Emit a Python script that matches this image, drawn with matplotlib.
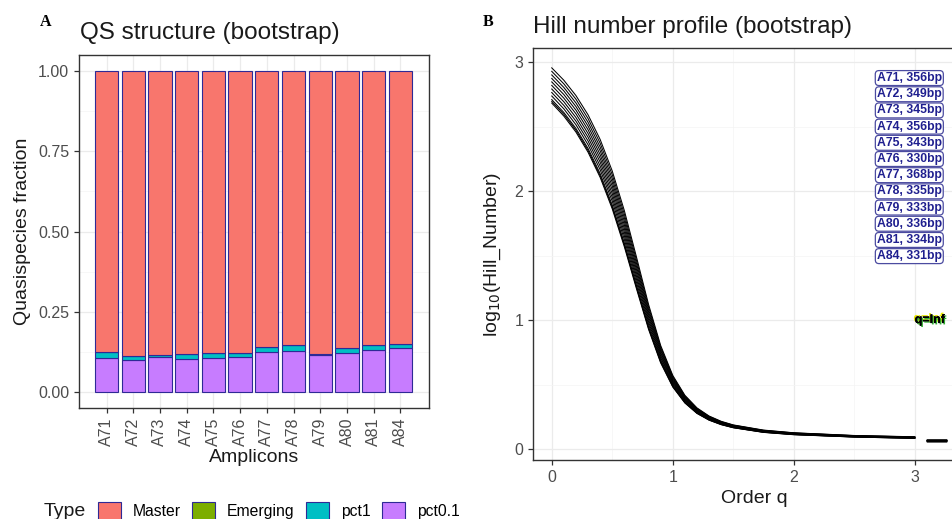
import matplotlib
matplotlib.use("Agg")
import matplotlib.pyplot as plt
import matplotlib.patheffects as pe
from matplotlib.patches import Patch

plt.rcParams['font.family'] = ['Liberation Sans', 'DejaVu Sans']

# ---- panel A data: quasispecies fractions per amplicon
amplicons = ['A71', 'A72', 'A73', 'A74', 'A75', 'A76', 'A77', 'A78', 'A79', 'A80', 'A81', 'A84']
pct01 = [0.106, 0.099, 0.110, 0.102, 0.105, 0.109, 0.124, 0.128, 0.114, 0.121, 0.130, 0.138]
pct1 = [0.019, 0.013, 0.004, 0.015, 0.015, 0.012, 0.016, 0.019, 0.005, 0.015, 0.017, 0.012]
emerging = [0.0, 0.0, 0.0, 0.0, 0.0, 0.0, 0.0, 0.0, 0.0, 0.0, 0.0, 0.0]
master = [0.875, 0.888, 0.886, 0.883, 0.880, 0.879, 0.860, 0.853, 0.881, 0.864, 0.853, 0.850]

# ---- panel B data: log10 Hill numbers vs order q
amp_len = [356, 349, 345, 356, 343, 330, 368, 335, 333, 336, 334, 331]
q = [0, 0.1, 0.2, 0.3, 0.4, 0.5, 0.6, 0.7, 0.8, 0.9, 1.0, 1.1, 1.2, 1.3, 1.4, 1.5, 1.75, 2.0, 2.5, 3.0]
hill_a71 = [2.955, 2.859, 2.740, 2.591, 2.400, 2.155, 1.848, 1.489, 1.121, 0.803, 0.571, 0.417, 0.319, 0.256, 0.215, 0.187, 0.147, 0.126, 0.105, 0.095]
hill_a72 = [2.928, 2.831, 2.712, 2.562, 2.371, 2.126, 1.820, 1.464, 1.102, 0.790, 0.562, 0.411, 0.315, 0.253, 0.212, 0.185, 0.145, 0.125, 0.104, 0.094]
hill_a73 = [2.900, 2.803, 2.683, 2.533, 2.341, 2.096, 1.792, 1.440, 1.082, 0.776, 0.553, 0.405, 0.310, 0.250, 0.210, 0.183, 0.143, 0.123, 0.103, 0.093]
hill_a74 = [2.873, 2.776, 2.655, 2.504, 2.312, 2.067, 1.764, 1.415, 1.063, 0.763, 0.544, 0.399, 0.306, 0.246, 0.207, 0.180, 0.142, 0.122, 0.101, 0.091]
hill_a75 = [2.846, 2.748, 2.627, 2.475, 2.282, 2.038, 1.736, 1.391, 1.044, 0.749, 0.535, 0.393, 0.302, 0.243, 0.205, 0.178, 0.140, 0.120, 0.100, 0.090]
hill_a76 = [2.819, 2.720, 2.599, 2.446, 2.253, 2.009, 1.708, 1.366, 1.025, 0.736, 0.526, 0.387, 0.298, 0.240, 0.202, 0.176, 0.138, 0.119, 0.099, 0.089]
hill_a77 = [2.791, 2.692, 2.570, 2.417, 2.224, 1.979, 1.680, 1.341, 1.005, 0.722, 0.517, 0.381, 0.293, 0.237, 0.199, 0.174, 0.136, 0.117, 0.098, 0.088]
hill_a78 = [2.764, 2.664, 2.542, 2.388, 2.194, 1.950, 1.652, 1.317, 0.986, 0.709, 0.508, 0.375, 0.289, 0.234, 0.197, 0.172, 0.134, 0.116, 0.097, 0.087]
hill_a79 = [2.737, 2.637, 2.514, 2.359, 2.165, 1.921, 1.624, 1.292, 0.967, 0.695, 0.499, 0.369, 0.285, 0.230, 0.194, 0.169, 0.133, 0.114, 0.095, 0.085]
hill_a80 = [2.709, 2.609, 2.485, 2.330, 2.135, 1.891, 1.596, 1.268, 0.947, 0.682, 0.490, 0.363, 0.280, 0.227, 0.192, 0.167, 0.131, 0.113, 0.094, 0.084]
hill_a81 = [2.695, 2.595, 2.471, 2.315, 2.120, 1.876, 1.582, 1.255, 0.937, 0.675, 0.485, 0.360, 0.278, 0.225, 0.190, 0.166, 0.130, 0.112, 0.093, 0.083]
hill_a84 = [2.682, 2.581, 2.457, 2.301, 2.106, 1.862, 1.568, 1.243, 0.928, 0.668, 0.481, 0.357, 0.276, 0.224, 0.189, 0.165, 0.129, 0.111, 0.093, 0.083]
hill_inf = [0.070, 0.069, 0.069, 0.068, 0.068, 0.068, 0.067, 0.067, 0.066, 0.066, 0.065, 0.065]

hill_curves = [hill_a71, hill_a72, hill_a73, hill_a74, hill_a75, hill_a76,
               hill_a77, hill_a78, hill_a79, hill_a80, hill_a81, hill_a84]

col_master = '#F8766D'
col_emerg = '#7CAE00'
col_pct1 = '#00BFC4'
col_pct01 = '#C77CFF'
edge = '#2E2A96'
tick_col = '#4D4D4D'
grid_major = '#EBEBEB'
grid_minor = '#F4F4F4'

W, H = 953, 519
fig = plt.figure(figsize=(W / 100, H / 100), dpi=100)


def style_axes(ax):
    for s in ax.spines.values():
        s.set_color('#333333')
        s.set_linewidth(1.0)
    ax.tick_params(colors='#333333', labelcolor=tick_col, labelsize=11.5, length=3.5, width=0.9)
    ax.grid(True, which='major', color=grid_major, lw=0.9, zorder=0)
    ax.grid(True, which='minor', color=grid_minor, lw=0.5, zorder=0)
    ax.tick_params(which='minor', length=0)
    ax.set_axisbelow(True)


# ---------------- panel A
axA = fig.add_axes([79 / W, 1 - 408 / H, 350 / W, 353 / H])
x = list(range(len(amplicons)))
bw = 0.87
axA.bar(x, pct01, bw, color=col_pct01, edgecolor=edge, lw=0.8, zorder=2)
axA.bar(x, pct1, bw, bottom=pct01, color=col_pct1, edgecolor=edge, lw=0.8, zorder=2)
b2 = [a + b for a, b in zip(pct01, pct1)]
axA.bar(x, emerging, bw, bottom=b2, color=col_emerg, edgecolor=edge, lw=0.8, zorder=2)
b3 = [a + b for a, b in zip(b2, emerging)]
axA.bar(x, master, bw, bottom=b3, color=col_master, edgecolor=edge, lw=0.8, zorder=2)

axA.set_xlim(-1.03, len(amplicons) - 1 + 1.07)
axA.set_ylim(-0.05, 1.05)
axA.set_xticks(x)
axA.set_xticklabels(amplicons, rotation=90)
axA.set_yticks([0, 0.25, 0.5, 0.75, 1.0])
axA.set_yticklabels(['0.00', '0.25', '0.50', '0.75', '1.00'])
axA.set_yticks([0.125, 0.375, 0.625, 0.875], minor=True)
style_axes(axA)
axA.set_xlabel('Amplicons', fontsize=14, color='#1A1A1A', labelpad=2)
axA.set_ylabel('Quasispecies fraction', fontsize=14, color='#1A1A1A', labelpad=5)

fig.text(80 / W, 1 - 33 / H, 'QS structure (bootstrap)', fontsize=17.5, color='#1A1A1A', va='center', ha='left')
fig.text(40 / W, 1 - 22 / H, 'A', fontsize=11.5, fontweight='bold', family='Liberation Serif', va='center', ha='left')

# legend
handles = [Patch(facecolor=col_master, edgecolor=edge, lw=0.8, label='Master'),
           Patch(facecolor=col_emerg, edgecolor=edge, lw=0.8, label='Emerging'),
           Patch(facecolor=col_pct1, edgecolor=edge, lw=0.8, label='pct1'),
           Patch(facecolor=col_pct01, edgecolor=edge, lw=0.8, label='pct0.1')]
fig.legend(handles=handles, loc='center left', bbox_to_anchor=(98 / W, 1 - 511 / H), ncol=4,
           frameon=False, fontsize=11.3, handlelength=1.45, handleheight=1.45, handletextpad=0.75,
           columnspacing=0.75, borderpad=0, borderaxespad=0)
fig.text(44 / W, 1 - 511 / H, 'Type', fontsize=14, color='#1A1A1A', va='center', ha='left')

# ---------------- panel B
q_left, q_right = -0.155, 3.5
axB = fig.add_axes([533 / W, 1 - 460 / H, (q_right - q_left) * 121 / W, 412 / H])
for curve in hill_curves:
    axB.plot(q, curve, color='black', lw=0.75, zorder=3)
for v in hill_inf:
    axB.plot([3.1, 3.26], [v, v], color='black', lw=1.0, zorder=3)

axB.set_xlim(q_left, q_right)
axB.set_ylim(-0.085, 3.109)
axB.set_xticks([0, 1, 2, 3])
axB.set_xticks([0.5, 1.5, 2.5], minor=True)
axB.set_yticks([0, 1, 2, 3])
axB.set_yticks([0.5, 1.5, 2.5], minor=True)
style_axes(axB)
axB.set_xlabel('Order q', fontsize=14, color='#1A1A1A', labelpad=4)
axB.set_ylabel(r'log$_{10}$(Hill_Number)', fontsize=14, color='#1A1A1A', labelpad=8)

for i, (name, ln) in enumerate(zip(amplicons, amp_len)):
    axB.text(2.955, 2.876 - i * 0.1255, '%s, %dbp' % (name, ln), fontsize=8.8, fontweight='bold',
             color='#1F1F8F', ha='center', va='center', zorder=5,
             bbox=dict(boxstyle='round,pad=0.12,rounding_size=0.3', fc='white', ec='#4B4BA0', lw=0.9))

axB.text(3.0, 1.0, 'q=Inf', fontsize=9, fontweight='bold', color='black', ha='left', va='center', zorder=5,
         path_effects=[pe.withSimplePatchShadow(offset=(-1, 1), shadow_rgbFace='#E8E800', alpha=1),
                       pe.withSimplePatchShadow(offset=(1, -1), shadow_rgbFace='#30B030', alpha=1),
                       pe.Normal()])

fig.text(483 / W, 1 - 22 / H, 'B', fontsize=11.5, fontweight='bold', family='Liberation Serif', va='center', ha='left')
fig.text(533 / W, 1 - 27 / H, 'Hill number profile (bootstrap)', fontsize=17.5, color='#1A1A1A', va='center', ha='left')

fig.savefig('out.png', dpi=100)
